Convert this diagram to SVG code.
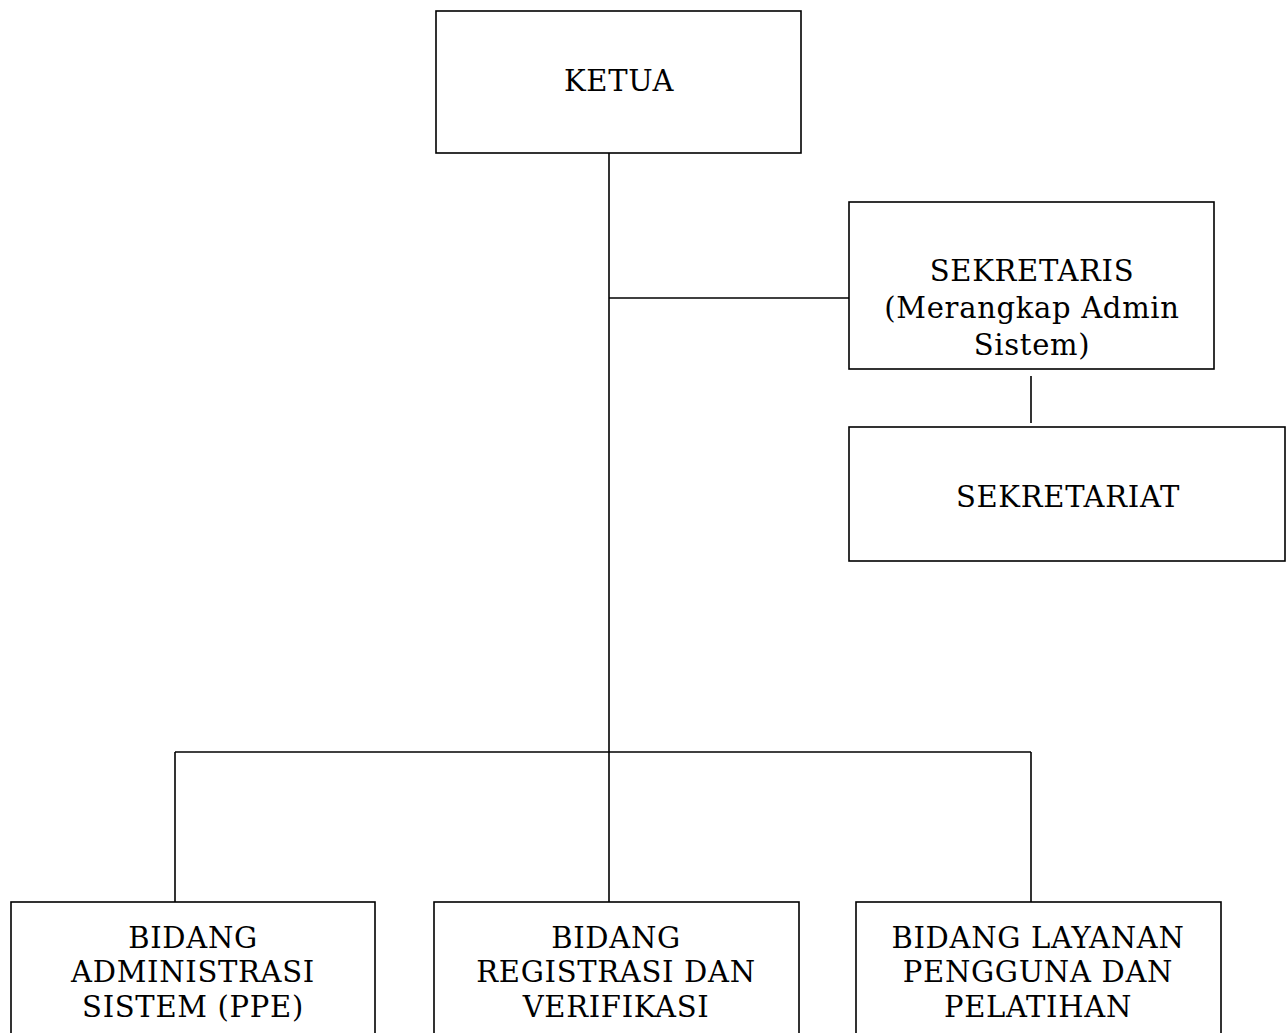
<svg xmlns="http://www.w3.org/2000/svg" width="1286" height="1033" viewBox="0 0 1286 1033">
<style>
.box{fill:#fff;stroke:#000;stroke-width:1.6}
.ln{stroke:#000;stroke-width:1.6;fill:none}
text{font-family:"DejaVu Serif","Liberation Serif",serif;font-size:29px;letter-spacing:0.7px;fill:#000;text-anchor:middle}
</style>
<rect width="1286" height="1033" fill="#fff"/>
<g id="connectors">
<path class="ln" d="M609 153V902"/>
<path class="ln" d="M609 298H849"/>
<path class="ln" d="M1031 376V423"/>
<path class="ln" d="M175 752H1031"/>
<path class="ln" d="M175 752V902"/>
<path class="ln" d="M1031 752V902"/>
</g>
<g id="ketua"><rect class="box" x="436" y="11" width="365" height="142"/><text x="619" y="91">KETUA</text></g>
<g id="sekretaris"><rect class="box" x="849" y="202" width="365" height="167"/><text x="1032" y="281">SEKRETARIS</text><text x="1032" y="318">(Merangkap Admin</text><text x="1032" y="355">Sistem)</text></g>
<g id="sekretariat"><rect class="box" x="849" y="427" width="436" height="134"/><text x="1068" y="507">SEKRETARIAT</text></g>
<g id="bidang1"><rect class="box" x="11" y="902" width="364" height="140"/><text x="193" y="948">BIDANG</text><text x="193" y="982">ADMINISTRASI</text><text x="193" y="1017">SISTEM (PPE)</text></g>
<g id="bidang2"><rect class="box" x="434" y="902" width="365" height="140"/><text x="616" y="948">BIDANG</text><text x="616" y="982">REGISTRASI DAN</text><text x="616" y="1017">VERIFIKASI</text></g>
<g id="bidang3"><rect class="box" x="856" y="902" width="365" height="140"/><text x="1038" y="948">BIDANG LAYANAN</text><text x="1038" y="982">PENGGUNA DAN</text><text x="1038" y="1017">PELATIHAN</text></g>
</svg>
